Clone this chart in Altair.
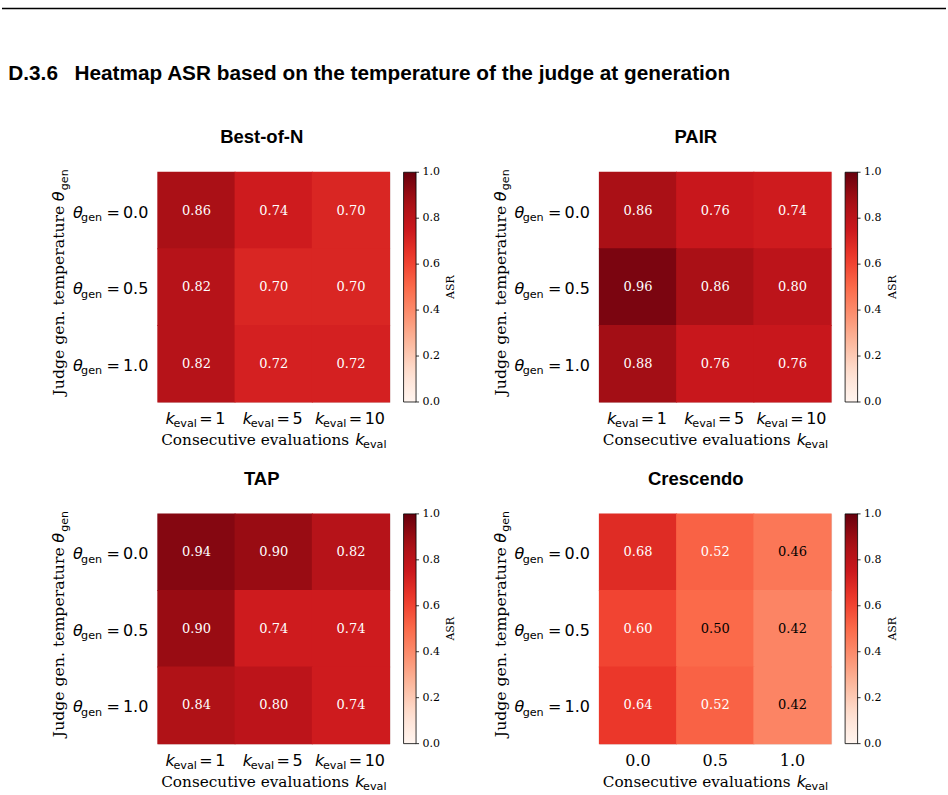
import altair as alt
import pandas as pd

# ---- data ---------------------------------------------------------------
methods = ["Best-of-N", "PAIR", "TAP", "Crescendo"]
temperatures = ["0.0", "0.5", "1.0"]              # judge generation temperature (rows)
k_eval_values = ["1", "5", "10"]                   # consecutive evaluations (columns)
crescendo_columns = ["0.0", "0.5", "1.0"]          # column labels used on the Crescendo panel

asr_best_of_n = [[0.86, 0.74, 0.70], [0.82, 0.70, 0.70], [0.82, 0.72, 0.72]]
asr_pair = [[0.86, 0.76, 0.74], [0.96, 0.86, 0.80], [0.88, 0.76, 0.76]]
asr_tap = [[0.94, 0.90, 0.82], [0.90, 0.74, 0.74], [0.84, 0.80, 0.74]]
asr_crescendo = [[0.68, 0.52, 0.46], [0.60, 0.50, 0.42], [0.64, 0.52, 0.42]]

colorbar_ticks = [0.0, 0.2, 0.4, 0.6, 0.8, 1.0]

# ColorBrewer "Reds" stops, interpolated linearly between 0 and 1
REDS = ["#fff5f0", "#fee0d2", "#fcbba1", "#fc9272", "#fb6a4a",
        "#ef3b2c", "#cb181d", "#a50f15", "#67000d"]
RED_STOPS = [i / 8 for i in range(9)]

# ---- style --------------------------------------------------------------
W, H = 232, 230
SANS = "DejaVu Sans"
SERIF = "DejaVu Serif"
HEAD = "Liberation Sans"
FS = 16          # tick label / axis title size
SUB = 11.2       # subscript size
ONE = pd.DataFrame({"n": [0]})


def note(text, x, y, size=FS, font=SANS, **kw):
    """A single piece of text placed relative to the plot area."""
    opts = dict(text=text, font=font, fontSize=size, baseline="alphabetic",
                color="black")
    opts.update(kw)
    return alt.Chart(ONE).mark_text(**opts).encode(x=alt.value(x), y=alt.value(y))


def panel(name, values, cols, math_cols, title_dx, header=False):
    rows = [{"temp": t, "col": c, "asr": v}
            for t, row in zip(temperatures, values) for c, v in zip(cols, row)]
    df = pd.DataFrame(rows)

    x_scale = alt.Scale(domain=cols, paddingInner=0, paddingOuter=0)
    y_scale = alt.Scale(domain=temperatures, paddingInner=0, paddingOuter=0)
    tick_axis = dict(labels=False, title=None, ticks=True, tickSize=3.5,
                     tickWidth=0.8, tickColor="black", domain=False, grid=False)
    color_scale = alt.Scale(domain=RED_STOPS, range=REDS, interpolate="rgb")

    # colour bar: gradient from the legend, ticks and labels drawn below
    legend = alt.Legend(
        type="gradient", title=None, orient="right", direction="vertical",
        gradientLength=H, gradientThickness=12.5,
        gradientStrokeColor="black", gradientStrokeWidth=0.8,
        offset=13.5, padding=0, values=colorbar_ticks, labelExpr="''",
    )

    # cells are drawn a hair larger than their band so neighbours leave no seam
    rect = alt.Chart(df).mark_rect(width=W / 3 + 1, height=H / 3 + 1).encode(
        x=alt.X("col:N", scale=x_scale, axis=alt.Axis(**tick_axis)),
        y=alt.Y("temp:N", scale=y_scale, axis=alt.Axis(**tick_axis)),
        color=alt.Color("asr:Q", scale=color_scale, legend=legend),
    )
    cell_text = alt.Chart(df).mark_text(font=SERIF, fontSize=13, baseline="middle").encode(
        x=alt.X("col:N", scale=x_scale, axis=None),
        y=alt.Y("temp:N", scale=y_scale, axis=None),
        text=alt.Text("asr:Q", format=".2f"),
        color=alt.condition("datum.asr > 0.51", alt.value("white"), alt.value("black")),
    )
    layers = [rect, cell_text]

    # y tick labels: theta_gen = value
    tdf = pd.DataFrame({"temp": temperatures})
    ty = alt.Y("temp:N", scale=y_scale, axis=None)
    ylab = dict(color="black", baseline="alphabetic")
    layers += [
        alt.Chart(tdf).mark_text(text="θ", font=SANS, fontStyle="italic", fontSize=FS,
                                 align="left", dy=7, **ylab).encode(y=ty, x=alt.value(-85)),
        alt.Chart(tdf).mark_text(text="gen", font=SANS, fontSize=SUB,
                                 align="left", dy=10.5, **ylab).encode(y=ty, x=alt.value(-76.8)),
        alt.Chart(tdf).mark_text(text="=", font=SANS, fontSize=FS,
                                 align="left", dy=7, **ylab).encode(y=ty, x=alt.value(-51.5)),
        alt.Chart(tdf).mark_text(font=SANS, fontSize=FS, align="right", dy=7, **ylab).encode(
            y=ty, x=alt.value(-9.5), text="temp:N"),
    ]

    # x tick labels
    if math_cols:
        for c in cols:
            cdf = pd.DataFrame({"col": [c]})
            cx = alt.X("col:N", scale=x_scale, axis=None)
            s = -31 - (len(c) - 1) * 5.1
            base = dict(color="black", baseline="alphabetic", align="left")
            layers += [
                alt.Chart(cdf).mark_text(text="k", font=SANS, fontStyle="italic", fontSize=FS,
                                         dx=s, **base).encode(x=cx, y=alt.value(H + 22)),
                alt.Chart(cdf).mark_text(text="eval", font=SANS, fontSize=SUB,
                                         dx=s + 8, **base).encode(x=cx, y=alt.value(H + 25.5)),
                alt.Chart(cdf).mark_text(text="=", font=SANS, fontSize=FS,
                                         dx=s + 33.8, **base).encode(x=cx, y=alt.value(H + 22)),
                alt.Chart(cdf).mark_text(font=SANS, fontSize=FS, dx=s + 49.8, **base).encode(
                    x=cx, y=alt.value(H + 22), text="col:N"),
            ]
    else:
        cdf = pd.DataFrame({"col": cols})
        layers.append(
            alt.Chart(cdf).mark_text(font=SERIF, fontSize=FS, align="center",
                                     baseline="alphabetic", color="black").encode(
                x=alt.X("col:N", scale=x_scale, axis=None), y=alt.value(H + 22), text="col:N")
        )

    # axis titles and colorbar label
    layers += [
        note("Consecutive evaluations", 191.5, H + 43.5, size=15.3, font=SERIF, align="right"),
        note("k", 197.5, H + 43.5, fontStyle="italic", align="left"),
        note("eval", 205.5, H + 46.5, size=SUB, align="left"),
        note("Judge gen. temperature", -93.5, 33.5, size=15.7, font=SERIF,
             align="right", angle=270),
        note("θ", -93.5, 29, fontStyle="italic", align="left", angle=270),
        note("gen", -90, 18, size=SUB, align="left", angle=270),
        note("ASR", W + 61.5, H / 2, size=11, font=SERIF, align="center",
             baseline="middle", angle=270),
    ]

    # panel title
    layers.append(note(name, W / 2 + title_dx, -29, size=18.5, font=HEAD,
                       fontWeight="bold", align="center"))

    # section heading and top rule
    if header:
        layers += [
            alt.Chart(ONE).mark_rule(color="black", strokeWidth=1.5).encode(
                x=alt.value(-156), x2=alt.value(789), y=alt.value(-164)),
            note("D.3.6", -149.7, -92.7, size=20.8, font=HEAD, fontWeight="bold", align="left"),
            note("Heatmap ASR based on the temperature of the judge at generation",
                 -83.5, -92.7, size=20.8, font=HEAD, fontWeight="bold", align="left"),
        ]

    core = alt.layer(*layers)

    # colorbar tick marks and tick labels on a 0..1 scale spanning the plot height
    tick_df = pd.DataFrame({"v": colorbar_ticks})
    cy = alt.Y("v:Q", scale=alt.Scale(domain=[0, 1]), axis=None)
    cb_ticks = alt.Chart(tick_df).mark_rule(color="black", strokeWidth=0.8).encode(
        y=cy, x=alt.value(W + 26), x2=alt.value(W + 29.5))
    cb_labels = alt.Chart(tick_df).mark_text(
        font=SERIF, fontSize=11, align="left", baseline="middle", color="black").encode(
        y=cy, x=alt.value(W + 33), text=alt.Text("v:Q", format=".1f"))
    colorbar = alt.layer(cb_ticks, cb_labels)

    return alt.layer(core, colorbar).resolve_scale(y="independent").properties(width=W, height=H)


panels = [
    panel(methods[0], asr_best_of_n, k_eval_values, True, -12, header=True),
    panel(methods[1], asr_pair, k_eval_values, True, -19.5),
    panel(methods[2], asr_tap, k_eval_values, True, -12),
    panel(methods[3], asr_crescendo, crescendo_columns, False, -19.5),
]

chart = alt.concat(
    *panels, columns=2, spacing={"row": 112, "column": 210}, bounds="flush"
).resolve_scale(
    color="independent"
).resolve_legend(
    color="independent"
).properties(
    padding={"left": 0, "top": 6, "right": 0, "bottom": 0}
).configure_view(
    stroke="black", strokeWidth=0.8
).configure(background="white")

chart.save("out.html", embed_options={"renderer": "svg", "actions": False})
